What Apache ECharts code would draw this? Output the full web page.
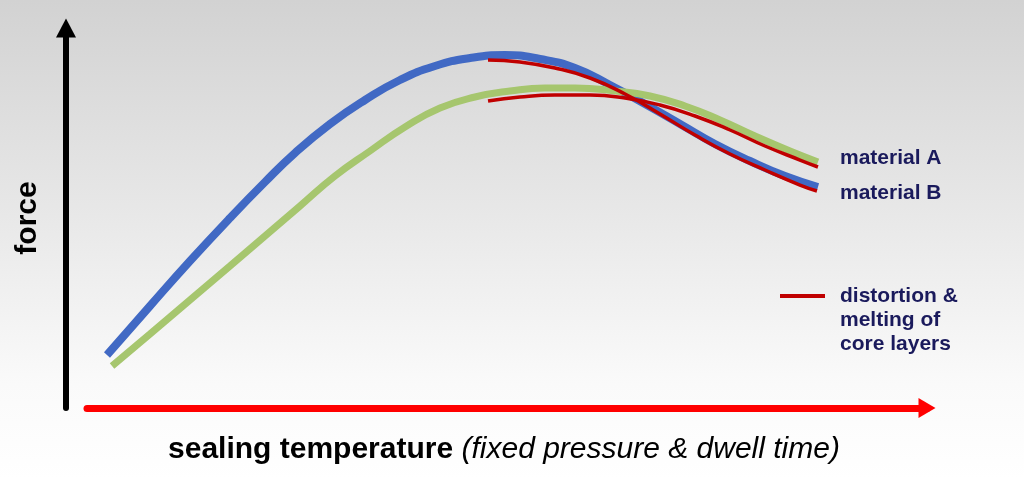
<!DOCTYPE html>
<html>
<head>
<meta charset="utf-8">
<script src="https://cdn.jsdelivr.net/npm/echarts@6/dist/echarts.min.js"></script>
<style>
  html, body { margin: 0; padding: 0; background: #fff; }
  #chart { width: 1024px; height: 480px; }
</style>
</head>
<body>
<div id="chart"></div>
<script>
// ---- data (x: sealing temperature, relative units; y: force, relative units) ----
const tempB  = [2.38, 7.50, 12.26, 17.02, 21.19, 24.76, 28.93, 33.10, 37.26, 41.43, 45.60, 49.76, 53.93, 58.10, 62.26, 66.43, 70.60, 74.76, 78.93, 83.10, 87.02];
const forceB = [13.95, 26.84, 38.68, 50.00, 59.47, 67.11, 74.74, 81.05, 86.32, 90.00, 92.11, 92.89, 91.84, 89.47, 85.00, 80.00, 74.74, 69.47, 65.00, 61.05, 58.16];

const tempA  = [2.98, 7.50, 12.26, 17.02, 21.19, 25.36, 29.52, 33.69, 37.86, 42.02, 46.19, 50.36, 54.52, 58.10, 62.86, 67.02, 71.19, 75.36, 79.52, 83.69, 87.02];
const forceA = [11.05, 19.47, 28.42, 37.37, 45.26, 53.16, 61.05, 67.63, 73.95, 78.95, 81.84, 83.42, 84.21, 84.21, 83.42, 82.11, 79.47, 75.79, 71.58, 67.63, 64.74];

const tempMeltB  = [47.74, 51.55, 55.71, 59.88, 64.05, 68.21, 72.38, 76.55, 80.71, 84.88, 86.90];
const forceMeltB = [91.58, 91.05, 89.47, 86.84, 82.63, 77.37, 71.84, 66.84, 62.63, 58.68, 57.11];

const tempMeltA  = [47.74, 51.55, 55.71, 59.88, 64.05, 68.21, 72.38, 76.55, 80.71, 84.88, 87.02];
const forceMeltA = [80.79, 81.84, 82.37, 82.37, 81.58, 79.74, 76.84, 73.16, 68.95, 65.26, 63.42];

const nameA = 'material A';
const nameB = 'material B';
const nameMelt = 'distortion &\nmelting of\ncore layers';
const xTitleBold = 'sealing temperature';
const xTitleItalic = '(fixed pressure & dwell time)';
const yTitle = 'force';

const zip = (xs, ys) => xs.map((x, i) => [x, ys[i]]);

const FONT = '"Liberation Sans", Arial, sans-serif';
const NAVY = '#1a1a5c';

const chart = echarts.init(document.getElementById('chart'), null, { renderer: 'canvas' });

chart.setOption({
  animation: false,
  backgroundColor: {
    type: 'linear', x: 0, y: 0, x2: 0, y2: 1,
    colorStops: [
      { offset: 0, color: '#d2d2d2' },
      { offset: 0.45, color: '#e8e8e8' },
      { offset: 0.8, color: '#fafafa' },
      { offset: 1, color: '#ffffff' }
    ]
  },
  grid: { left: 87, right: 97, top: 28, bottom: 72, containLabel: false },
  legend: {
    show: true,
    data: [nameMelt],
    left: 775,
    top: 231,
    icon: 'rect',
    itemWidth: 45,
    itemHeight: 4,
    formatter: function (n) { return '\n\n' + n; },
    textStyle: {
      fontFamily: FONT, fontSize: 21, fontWeight: 'bold', color: NAVY,
      lineHeight: 24, padding: [0, 0, 0, 10]
    }
  },
  xAxis: {
    type: 'value', min: 0, max: 100,
    axisLine: {
      show: true, onZero: false,
      symbol: ['none', 'triangle'], symbolSize: [20, 17],
      lineStyle: { color: '#ff0000', width: 7 }
    },
    axisTick: { show: false }, axisLabel: { show: false }, splitLine: { show: false },
    name: '{b|' + xTitleBold + '} {i|' + xTitleItalic + '}',
    nameLocation: 'middle',
    nameGap: 25,
    nameTextStyle: {
      color: '#000', fontFamily: FONT, fontSize: 30, lineHeight: 34,
      padding: [0, 6, 0, 0],
      rich: {
        b: { fontFamily: FONT, fontSize: 30, fontWeight: 'bold', color: '#000', lineHeight: 34 },
        i: { fontFamily: FONT, fontSize: 30, fontStyle: 'italic', color: '#000', lineHeight: 34 }
      }
    }
  },
  yAxis: {
    type: 'value', min: 0, max: 100,
    offset: 21,
    axisLine: {
      show: true, onZero: false,
      symbol: ['none', 'triangle'], symbolSize: [20, 19],
      lineStyle: { color: '#000', width: 6 }
    },
    axisTick: { show: false }, axisLabel: { show: false }, splitLine: { show: false },
    name: yTitle,
    nameLocation: 'middle',
    nameRotate: 90,
    nameGap: 23,
    nameTextStyle: { color: '#000', fontFamily: FONT, fontSize: 30, fontWeight: 'bold' }
  },
  series: [
    {
      name: nameB, type: 'line', data: zip(tempB, forceB),
      smooth: 0.5, showSymbol: false, symbol: 'none',
      lineStyle: { color: '#4169c4', width: 8, cap: 'butt' },
      itemStyle: { color: '#4169c4' },
      endLabel: {
        show: true, formatter: nameB, distance: 22, offset: [0, 6],
        fontFamily: FONT, fontSize: 21, fontWeight: 'bold', color: NAVY
      },
      z: 2
    },
    {
      name: nameA, type: 'line', data: zip(tempA, forceA),
      smooth: 0.5, showSymbol: false, symbol: 'none',
      lineStyle: { color: '#a6c66e', width: 7, cap: 'butt' },
      itemStyle: { color: '#a6c66e' },
      endLabel: {
        show: true, formatter: nameA, distance: 22, offset: [0, -4],
        fontFamily: FONT, fontSize: 21, fontWeight: 'bold', color: NAVY
      },
      z: 3
    },
    {
      name: nameMelt, type: 'line', data: zip(tempMeltB, forceMeltB),
      smooth: 0.5, showSymbol: false, symbol: 'none',
      lineStyle: { color: '#c00000', width: 3.5, cap: 'butt' },
      itemStyle: { color: '#c00000' },
      z: 4
    },
    {
      name: nameMelt, type: 'line', data: zip(tempMeltA, forceMeltA),
      smooth: 0.5, showSymbol: false, symbol: 'none',
      lineStyle: { color: '#c00000', width: 3.5, cap: 'butt' },
      itemStyle: { color: '#c00000' },
      z: 4
    }
  ]
});
</script>
</body>
</html>
